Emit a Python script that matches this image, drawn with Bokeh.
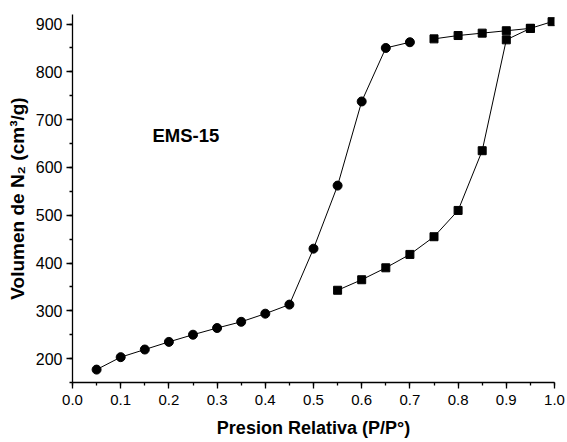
from bokeh.plotting import figure
from bokeh.models import Range1d, FixedTicker, Label
from bokeh.embed import file_html
from bokeh.resources import INLINE

# Adsorption (circles)
ads_x = [0.05, 0.10, 0.15, 0.20, 0.25, 0.30, 0.35, 0.40, 0.45, 0.50, 0.55, 0.60, 0.65, 0.70]
ads_y = [177, 203, 219, 235, 250, 264, 277, 294, 313, 430, 562, 738, 850, 862]

# Squares, lower branch
des_x = [0.55, 0.60, 0.65, 0.70, 0.75, 0.80, 0.85, 0.90, 0.95, 0.995]
des_y = [343, 365, 390, 418, 455, 510, 635, 867, 891, 905]

# Squares, upper branch
top_x = [0.75, 0.80, 0.85, 0.90, 0.95]
top_y = [869, 876, 881, 886, 891]

x_ticks = [0.0, 0.1, 0.2, 0.3, 0.4, 0.5, 0.6, 0.7, 0.8, 0.9, 1.0]
y_ticks = [200, 300, 400, 500, 600, 700, 800, 900]

x_title = "Presion Relativa (P/P°)"
y_title = "Volumen de N₂ (cm³/g)"
sample_name = "EMS-15"

FONT = "Liberation Sans"

p = figure(width=567, height=442, output_backend="svg", toolbar_location=None,
           x_range=Range1d(0, 1.0), y_range=Range1d(150, 920),
           min_border_left=72, min_border_right=13, min_border_top=14, min_border_bottom=60)
p.outline_line_color = None
p.xgrid.visible = False
p.ygrid.visible = False
p.background_fill_color = "white"
p.border_fill_color = "white"

p.xaxis.ticker = FixedTicker(ticks=x_ticks, minor_ticks=[i / 20 for i in range(21)])
p.yaxis.ticker = FixedTicker(ticks=y_ticks, minor_ticks=list(range(150, 921, 50)))
p.xaxis.major_label_overrides = {t: f"{t:.1f}" for t in x_ticks}

for ax in (p.xaxis, p.yaxis):
    ax.axis_line_color = "black"
    ax.axis_line_width = 1.3
    ax.major_tick_line_color = "black"
    ax.minor_tick_line_color = "black"
    ax.major_tick_line_width = 1.3
    ax.minor_tick_line_width = 1.3
    ax.major_tick_in = 0
    ax.major_tick_out = 6
    ax.minor_tick_in = 0
    ax.minor_tick_out = 3
    ax.major_label_text_font = FONT
    ax.major_label_text_color = "black"
    ax.axis_label_text_font = FONT
    ax.axis_label_text_font_style = "bold"
    ax.axis_label_text_color = "black"

p.xaxis.axis_label_text_font_size = "18px"
p.yaxis.axis_label_text_font_size = "19px"
p.xaxis.major_label_text_font_size = "15px"
p.yaxis.major_label_text_font_size = "16px"
p.xaxis.major_label_standoff = 6
p.yaxis.major_label_standoff = 4

p.xaxis.axis_label = x_title
p.yaxis.axis_label = y_title
p.xaxis.axis_label_standoff = 10
p.yaxis.axis_label_standoff = 5

p.line(ads_x, ads_y, line_color="black", line_width=1)
p.scatter(ads_x, ads_y, marker="circle", size=9, fill_color="black", line_color="black")

p.line(des_x, des_y, line_color="black", line_width=1)
p.scatter(des_x, des_y, marker="square", size=8, fill_color="black", line_color="black")

p.line(top_x, top_y, line_color="black", line_width=1)
p.scatter(top_x, top_y, marker="square", size=8, fill_color="black", line_color="black")

p.add_layout(Label(x=0.166, y=667, text=sample_name, text_font=FONT, text_font_style="bold",
                   text_font_size="18.5px", text_color="black", text_baseline="alphabetic"))

open("out.html", "w").write(file_html(p, INLINE))
